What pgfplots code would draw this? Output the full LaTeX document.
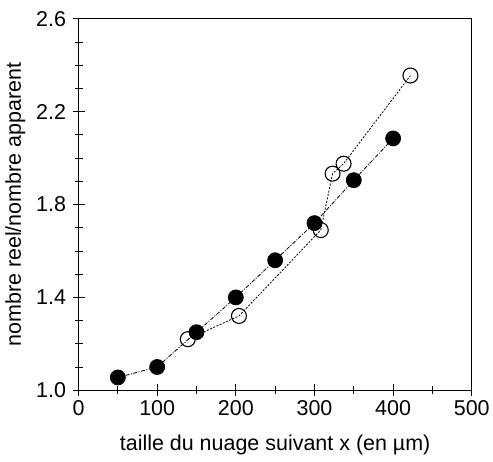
\documentclass[border={2pt 3pt 0pt 8pt}]{standalone}
\usepackage{fontspec}
\setmainfont{Liberation Sans}
\usepackage{pgfplots}
\pgfplotsset{compat=1.18}

\begin{document}
\begin{tikzpicture}[font=\fontsize{21.5}{24}\selectfont]
\begin{axis}[
  scale only axis,
  width=394pt, height=372pt,
  xmin=0, xmax=500, ymin=1.0, ymax=2.6,
  xtick={0,100,...,500},
  ytick={1.0,1.4,1.8,2.2,2.6},
  minor x tick num=1,
  minor y tick num=3,
  xtick pos=bottom, ytick pos=left,
  tick align=center,
  major tick length=12pt, minor tick length=8pt,
  every tick/.style={black, line width=0.9pt},
  axis line style={line width=0.9pt},
  /pgf/number format/assume math mode=true,
  yticklabel style={/pgf/number format/fixed, /pgf/number format/fixed zerofill, /pgf/number format/precision=1, xshift=-3pt},
  xticklabel style={/pgf/number format/fixed, yshift=-1pt},
  xlabel={taille du nuage suivant x (en µm)},
  ylabel={nombre reel/nombre apparent},
  xlabel style={yshift=-12pt},
  ylabel style={yshift=4pt},
]
% filled circles
\addplot[black, line width=0.8pt, dash pattern=on 4pt off 1.5pt on 1pt off 1.5pt,
  mark=*, mark size=7.5pt, mark options={solid, fill=black}]
coordinates {
  (50,1.055) (100,1.10) (150,1.25) (200,1.40) (250,1.56) (300,1.72) (350,1.905) (400,2.085)
};
% open circles
\addplot[black, line width=0.8pt, dash pattern=on 2pt off 1.5pt,
  mark=o, mark size=7.5pt, mark options={solid, line width=1.1pt, fill=white}]
coordinates {
  (139,1.22) (204,1.32) (308,1.69) (323,1.933) (337,1.976) (422,2.356)
};
\end{axis}
\end{tikzpicture}
\end{document}
